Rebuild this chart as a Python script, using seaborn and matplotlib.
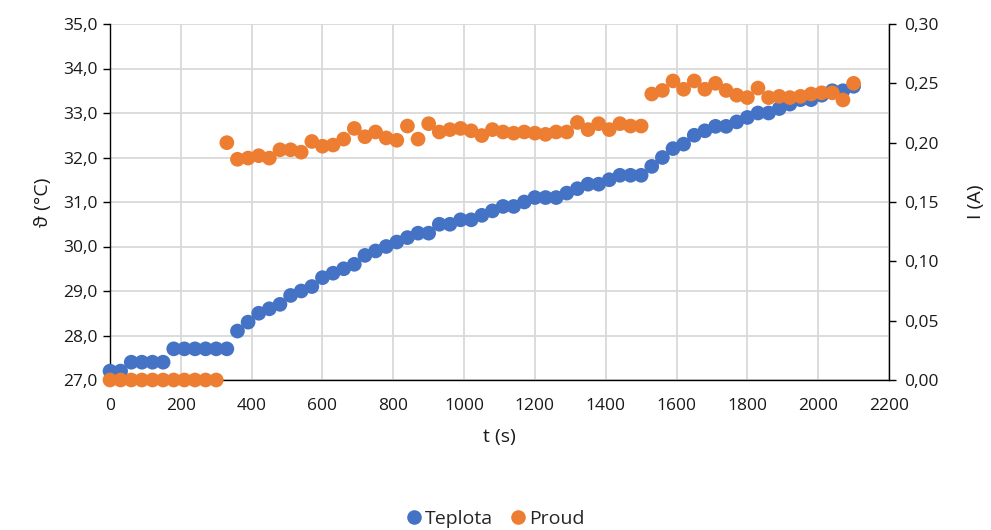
import numpy as np
import pandas as pd
import matplotlib
matplotlib.use("Agg")
import matplotlib.pyplot as plt
from matplotlib.ticker import FuncFormatter, MultipleLocator
from matplotlib.lines import Line2D
import seaborn as sns

# Measurement times (s), sampled every 30 s
t_s = list(range(0, 2101, 30))

# Temperature ϑ (°C)
teplota = [
    27.2, 27.2, 27.4, 27.4, 27.4, 27.4, 27.7, 27.7, 27.7, 27.7,
    27.7, 27.7, 28.1, 28.3, 28.5, 28.6, 28.7, 28.9, 29.0, 29.1,
    29.3, 29.4, 29.5, 29.6, 29.8, 29.9, 30.0, 30.1, 30.2, 30.3,
    30.3, 30.5, 30.5, 30.6, 30.6, 30.7, 30.8, 30.9, 30.9, 31.0,
    31.1, 31.1, 31.1, 31.2, 31.3, 31.4, 31.4, 31.5, 31.6, 31.6,
    31.6, 31.8, 32.0, 32.2, 32.3, 32.5, 32.6, 32.7, 32.7, 32.8,
    32.9, 33.0, 33.0, 33.1, 33.2, 33.3, 33.3, 33.4, 33.5, 33.5,
    33.6,
]

# Current I (A)
proud = [
    0.000, 0.000, 0.000, 0.000, 0.000, 0.000, 0.000, 0.000, 0.000, 0.000,
    0.000, 0.200, 0.186, 0.187, 0.189, 0.187, 0.194, 0.194, 0.192, 0.201,
    0.197, 0.198, 0.203, 0.212, 0.205, 0.209, 0.204, 0.202, 0.214, 0.203,
    0.216, 0.209, 0.211, 0.212, 0.210, 0.206, 0.211, 0.209, 0.208, 0.209,
    0.208, 0.207, 0.209, 0.209, 0.217, 0.211, 0.216, 0.211, 0.216, 0.214,
    0.214, 0.241, 0.244, 0.252, 0.245, 0.252, 0.245, 0.250, 0.244, 0.240,
    0.238, 0.246, 0.238, 0.239, 0.238, 0.239, 0.241, 0.242, 0.242, 0.236,
    0.250,
]

df = pd.DataFrame({"t": t_s, "Teplota": teplota, "Proud": proud})

BLUE = "#4472C4"
ORANGE = "#ED7D31"
GRID = "#D9D9D9"

sns.set_theme(style="white")
plt.rcParams["font.family"] = ["Open Sans", "DejaVu Sans"]

fig = plt.figure(figsize=(9.91, 5.30), dpi=100)
ax = fig.add_axes([110 / 991, 1 - 380 / 530, (889 - 110) / 991, (380 - 24) / 530])
ax2 = ax.twinx()

comma1 = FuncFormatter(lambda v, p: f"{v:.1f}".replace(".", ","))
comma2 = FuncFormatter(lambda v, p: f"{v:.2f}".replace(".", ","))
intfmt = FuncFormatter(lambda v, p: f"{v:.0f}")

msize = 112
sns.scatterplot(data=df, x="t", y="Teplota", ax=ax, color=BLUE, s=msize,
                edgecolor="none", clip_on=False, zorder=3, legend=False)
sns.scatterplot(data=df, x="t", y="Proud", ax=ax2, color=ORANGE, s=msize,
                edgecolor="none", clip_on=False, zorder=3, legend=False)

ax.set_xlim(0, 2200)
ax.set_ylim(27, 35)
ax2.set_ylim(0, 0.30)
ax.xaxis.set_major_locator(MultipleLocator(200))
ax.yaxis.set_major_locator(MultipleLocator(1))
ax2.yaxis.set_major_locator(MultipleLocator(0.05))
ax.xaxis.set_major_formatter(intfmt)
ax.yaxis.set_major_formatter(comma1)
ax2.yaxis.set_major_formatter(comma2)

ax.grid(True, color=GRID, linewidth=1.3, zorder=0)
ax.set_axisbelow(True)
ax2.grid(False)

for a in (ax, ax2):
    a.spines["top"].set_visible(False)
    for sp in ("left", "right", "bottom"):
        a.spines[sp].set_color("black")
        a.spines[sp].set_linewidth(1.0)
ax.spines["right"].set_visible(False)
ax2.spines["left"].set_visible(False)
ax2.spines["bottom"].set_visible(False)

ax.tick_params(axis="both", which="major", direction="out", length=5,
               width=1, color="black", labelsize=12.5, labelcolor="#1a1a1a", pad=4)
ax2.tick_params(axis="y", direction="out", length=5, width=1, color="black",
                labelsize=12.5, labelcolor="#1a1a1a", pad=6)
ax.tick_params(axis="x", pad=8)

ax.set_xlabel("t (s)", fontsize=14, labelpad=10, color="#1a1a1a")
ax.set_ylabel("ϑ (°C)", fontsize=14, labelpad=8, color="#1a1a1a")
ax2.set_ylabel("I (A)", fontsize=14, labelpad=20, color="#1a1a1a")

handles = [
    Line2D([], [], marker="o", linestyle="none", markersize=10.5,
           markerfacecolor=BLUE, markeredgecolor="none", label="Teplota"),
    Line2D([], [], marker="o", linestyle="none", markersize=10.5,
           markerfacecolor=ORANGE, markeredgecolor="none", label="Proud"),
]
fig.legend(handles=handles, loc="center", bbox_to_anchor=(0.5, 1 - 519 / 530),
           ncol=2, frameon=False, fontsize=14, handlelength=0.8,
           handletextpad=0.15, columnspacing=0.9, borderaxespad=0)

fig.savefig("out.png", dpi=100)
